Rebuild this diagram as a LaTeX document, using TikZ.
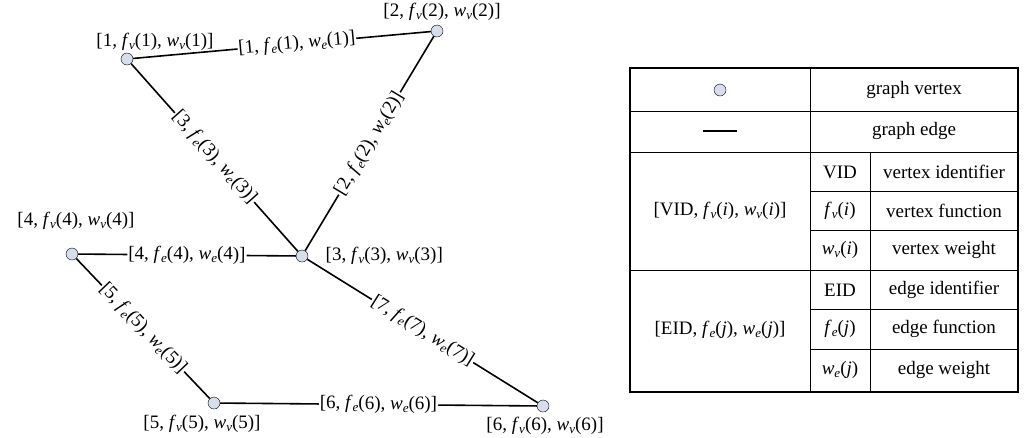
\documentclass[tikz,border=0pt]{standalone}
\usepackage{fontspec}
\setmainfont{Liberation Serif}
\usetikzlibrary{positioning}
\definecolor{vfill}{RGB}{215,222,235}
\newcommand{\fsub}[2]{\textit{f}\raisebox{-0.35ex}{\fontsize{13}{13}\selectfont\textit{#1}}(#2)}
\newcommand{\wsub}[2]{\textit{w}\raisebox{-0.35ex}{\fontsize{13}{13}\selectfont\textit{#1}}(#2)}
\newcommand{\vlab}[1]{[#1, \fsub{v}{#1}, \wsub{v}{#1}]}
\newcommand{\elab}[1]{[#1, \fsub{e}{#1}, \wsub{e}{#1}]}
\begin{document}
\begin{tikzpicture}%
	[x=1pt, y=-1pt,
	font=\fontsize{19}{22}\selectfont,
	vertex/.style={circle, draw, fill=vfill, minimum size=12pt, inner sep=0pt},
	edge/.style={line width=1.6pt},
	elabel/.style={sloped, fill=white, inner sep=1pt},
	cell/.style={inner sep=0pt}]
\useasboundingbox (0,0) rectangle (1024,437);
%
%% graph vertices
\node[vertex] (v1) at (127,59) {};
\node[vertex] (v2) at (437,31) {};
\node[vertex] (v3) at (302,256) {};
\node[vertex] (v4) at (72,254) {};
\node[vertex] (v5) at (214,403) {};
\node[vertex] (v6) at (543,406) {};
%
%% vertex labels
\node at (155,42) {\vlab{1}};
\node at (442,12) {\vlab{2}};
\node[right=14pt of v3] {\vlab{3}};
\node at (76,221) {\vlab{4}};
\node at (202,424) {\vlab{5}};
\node at (545,426) {\vlab{6}};
%
%% graph edges
\draw[edge] (v1) -- node[elabel, pos=0.55] {\elab{1}} (v2);
\draw[edge] (v3) -- node[elabel] {\elab{2}} (v2);
\draw[edge] (v1) -- node[elabel] {\elab{3}} (v3);
\draw[edge] (v4) -- node[elabel, pos=0.5] {\elab{4}} (v3);
\draw[edge] (v4) -- node[elabel] {\elab{5}} (v5);
\draw[edge] (v5) -- node[elabel] {\elab{6}} (v6);
\draw[edge] (v3) -- node[elabel] {\elab{7}} (v6);
%
%% legend table
\draw[line width=1.6pt] (630,68) rectangle (1018,392);
\draw[thick] (630,111) -- (1018,111);
\draw[thick] (630,152) -- (1018,152);
\draw[thick] (630,270) -- (1018,270);
\draw[thick] (810,68) -- (810,392);
\draw[thick] (870,152) -- (870,392);
\foreach \y in {191,230,309,349} \draw[thick] (810,\y) -- (1018,\y);
%
\node[vertex] (legv) at (720,90) {};
\draw[line width=2pt] (703,131) -- (737,131);
\node[cell] at (914,90) {graph vertex};
\node[cell] at (914,131) {graph edge};
\node[cell] at (720,211) {[VID, \fsub{v}{\textit{i}}, \wsub{v}{\textit{i}}]};
\node[cell] at (720,330) {[EID, \fsub{e}{\textit{j}}, \wsub{e}{\textit{j}}]};
\node[cell] at (840,172) {VID};
\node[cell] at (840,211) {\fsub{v}{\textit{i}}};
\node[cell] at (840,250) {\wsub{v}{\textit{i}}};
\node[cell] at (840,290) {EID};
\node[cell] at (840,329) {\fsub{e}{\textit{j}}};
\node[cell] at (840,370) {\wsub{e}{\textit{j}}};
\node[cell] at (944,172) {vertex identifier};
\node[cell] at (944,211) {vertex function};
\node[cell] at (944,250) {vertex weight};
\node[cell] at (944,290) {edge identifier};
\node[cell] at (944,329) {edge function};
\node[cell] at (944,370) {edge weight};
\end{tikzpicture}
\end{document}
